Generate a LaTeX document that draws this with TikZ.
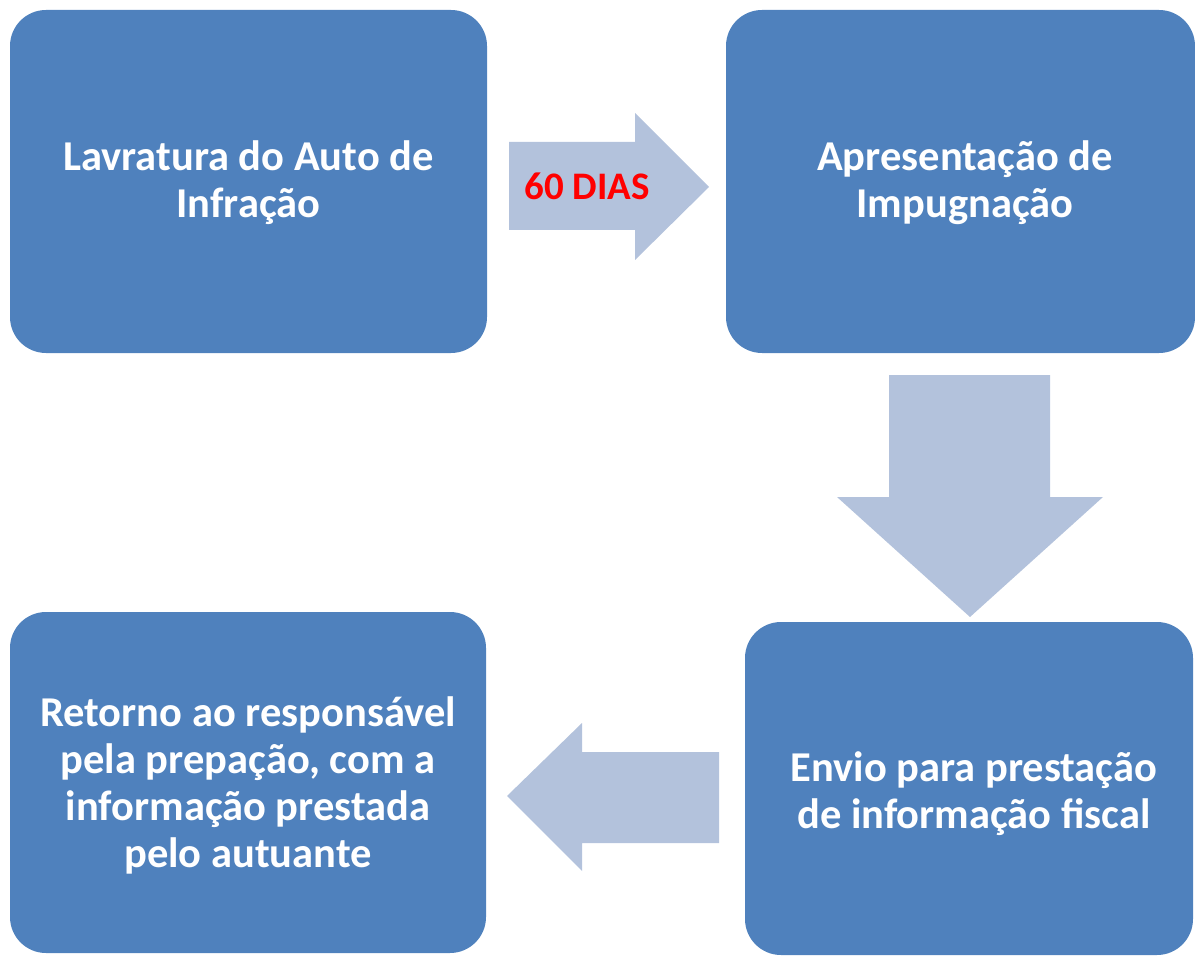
\documentclass[tikz,border=0pt]{standalone}
\usepackage{fontspec}
\setmainfont{Carlito}
\definecolor{boxblue}{HTML}{4F81BD}
\definecolor{arrowblue}{HTML}{B3C2DC}
\definecolor{lblred}{HTML}{FF0000}
\begin{document}
\begin{tikzpicture}[x=1pt,y=-1pt,
  stepbox/.style={fill=boxblue,draw=none,rounded corners=36pt},
  boxtext/.style={text=white,font=\fontsize{42.5}{47}\selectfont\bfseries,align=center},
  arrowshape/.style={fill=arrowblue,draw=none}]
\useasboundingbox (0,0) rectangle (1195,960);
% boxes
\path[stepbox] (10,10) rectangle (487,353);
\path[stepbox] (726,10) rectangle (1195,353);
\path[stepbox] (745,622) rectangle (1193,955);
\path[stepbox] (10,612) rectangle (486,953);
\node[boxtext] (b1) at (248.5,183) {Lavratura do Auto de\\Infração};
\node[boxtext] (b2) at (965,183) {Apresentação de\\Impugnação};
\node[boxtext] (b3) at (974,794) {Envio para prestação\\de informação fiscal};
\node[boxtext] (b4) at (248,785) {Retorno ao responsável\\pela prepação, com a\\informação prestada\\pelo autuante};
% right arrow
\path[arrowshape] (509,142) -- (635,142) -- (635,113) -- (709,187) -- (635,260) -- (635,230) -- (509,230) -- cycle;
\node[text=lblred,font=\fontsize{39}{45}\selectfont\bfseries] (lbl) at (587,186) {60 DIAS};
% down arrow
\path[arrowshape] (889,375) -- (1050,375) -- (1050,497) -- (1103,497) -- (970,617) -- (837,497) -- (889,497) -- cycle;
% left arrow
\path[arrowshape] (719,752) -- (582,752) -- (582,723) -- (507,796) -- (582,871) -- (582,843) -- (719,843) -- cycle;
\end{tikzpicture}
\end{document}
